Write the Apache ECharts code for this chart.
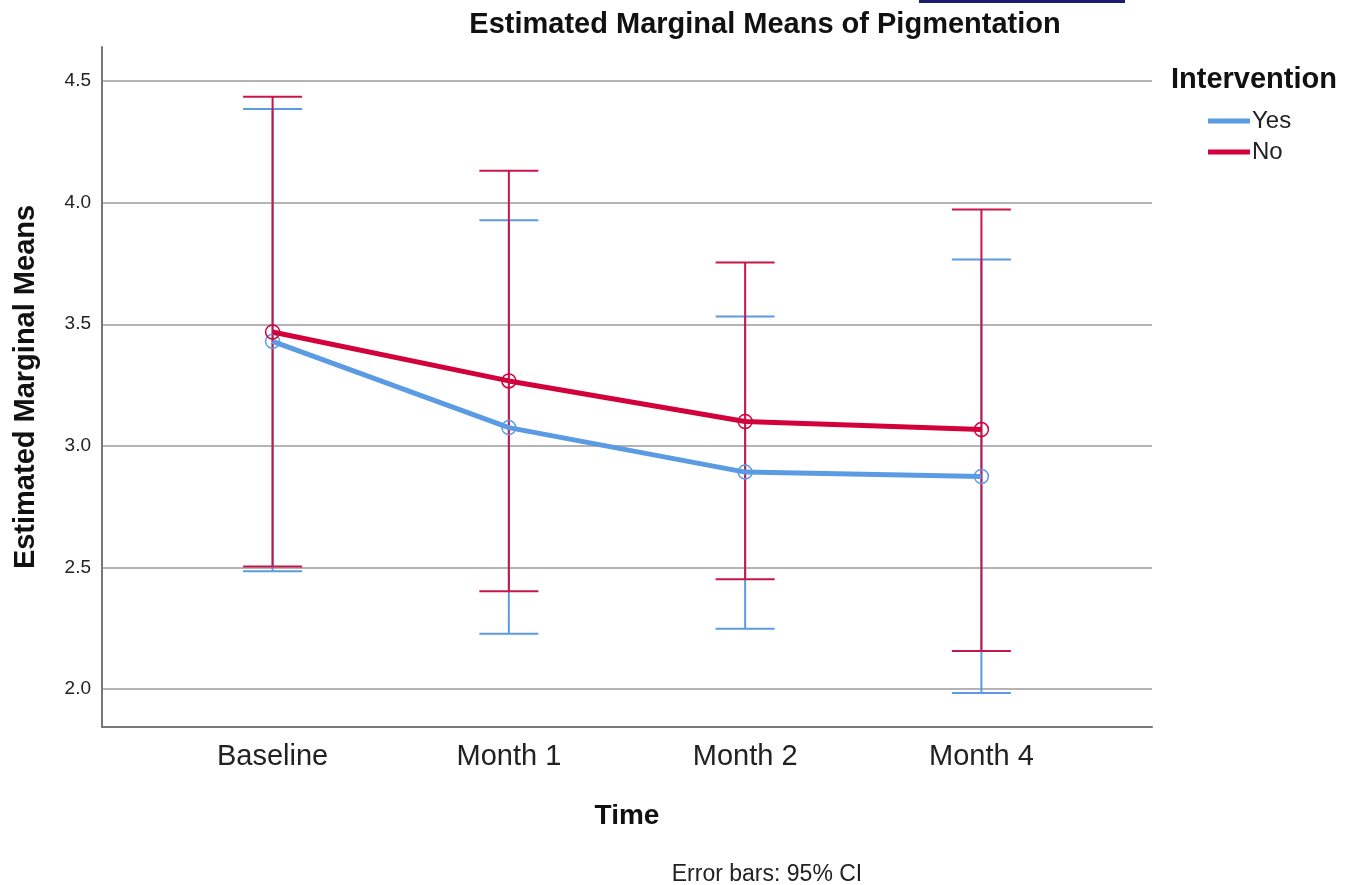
<!DOCTYPE html>
<html>
<head>
<meta charset="utf-8">
<script src="https://cdn.jsdelivr.net/npm/echarts@6/dist/echarts.min.js"></script>
<style>
  html, body { margin: 0; padding: 0; background: #fff; }
  #chart { width: 1347px; height: 885px; }
</style>
</head>
<body>
<div id="chart"></div>
<script>
// ---- data ----
const categories = ['Baseline', 'Month 1', 'Month 2', 'Month 4'];
const seriesNames = ['Yes', 'No'];
const yesMean  = [3.43, 3.075, 2.892, 2.874];
const yesLower = [2.484, 2.227, 2.248, 1.984];
const yesUpper = [4.385, 3.928, 3.532, 3.766];
const noMean   = [3.468, 3.267, 3.10, 3.067];
const noLower  = [2.504, 2.402, 2.451, 2.156];
const noUpper  = [4.435, 4.131, 3.754, 3.972];
const yTicks = [2.0, 2.5, 3.0, 3.5, 4.0, 4.5];

const FONT = '"Liberation Sans", Arial, sans-serif';
const BLUE = '#5b9be3';
const RED = '#d2003b';
const RED_BAR = '#c8164a';
const BLUE_BAR = '#5b9be3';

const idx = categories.map((_, i) => i);

function errData(lo, hi) { return idx.map(i => [i, lo[i], hi[i]]); }
function meanData(m) { return idx.map(i => [i, m[i]]); }

function errRender(color) {
  return function (params, api) {
    const x = api.value(0);
    const lo = api.coord([x, api.value(1)]);
    const hi = api.coord([x, api.value(2)]);
    const half = 29.5;
    const style = { stroke: color, lineWidth: 2, fill: null };
    return {
      type: 'group',
      children: [
        { type: 'line', shape: { x1: lo[0], y1: lo[1], x2: hi[0], y2: hi[1] }, style },
        { type: 'line', shape: { x1: lo[0] - half, y1: lo[1], x2: lo[0] + half, y2: lo[1] }, style },
        { type: 'line', shape: { x1: hi[0] - half, y1: hi[1], x2: hi[0] + half, y2: hi[1] }, style }
      ]
    };
  };
}

const chart = echarts.init(document.getElementById('chart'), null, { renderer: 'canvas' });

chart.setOption({
  backgroundColor: '#fff',
  animation: false,
  color: [BLUE, RED],
  title: [
    {
      text: 'Estimated Marginal Means of Pigmentation',
      left: 760, top: 5, textAlign: 'center',
      textStyle: { fontFamily: FONT, fontSize: 29, fontWeight: 'bold', color: '#111' }
    },
    {
      text: 'Intervention',
      left: 1166, top: 60,
      textStyle: { fontFamily: FONT, fontSize: 29, fontWeight: 'bold', color: '#111' }
    },
    {
      text: 'Error bars: 95% CI',
      left: 762, top: 858, textAlign: 'center',
      textStyle: { fontFamily: FONT, fontSize: 23, fontWeight: 'normal', color: '#222' }
    }
  ],
  graphic: [
    { type: 'rect', shape: { x: 919, y: 0, width: 206, height: 3 }, style: { fill: '#1d1d6b' } }
  ],
  legend: {
    orient: 'vertical',
    left: 1203, top: 104,
    itemWidth: 42, itemHeight: 5, itemGap: 7,
    icon: 'rect',
    data: seriesNames,
    textStyle: { fontFamily: FONT, fontSize: 24, color: '#222', padding: [0, 0, 0, -3] }
  },
  grid: { left: 102, right: 195, top: 47, bottom: 158, containLabel: false },
  xAxis: {
    type: 'value',
    min: -0.722, max: 3.722,
    name: 'Time',
    nameLocation: 'middle',
    nameGap: 75,
    nameTextStyle: { fontFamily: FONT, fontSize: 28, fontWeight: 'bold', color: '#111' },
    axisLine: { show: true, onZero: false, lineStyle: { color: '#777', width: 2 } },
    axisTick: { show: false, customValues: idx },
    splitLine: { show: false },
    axisLabel: {
      customValues: idx,
      formatter: v => categories[Math.round(v)],
      fontFamily: FONT, fontSize: 29, color: '#222', margin: 15
    }
  },
  yAxis: {
    type: 'value',
    min: 1.844, max: 4.64,
    name: 'Estimated Marginal Means',
    nameLocation: 'middle',
    nameGap: 62,
    nameTextStyle: { fontFamily: FONT, fontSize: 29, fontWeight: 'bold', color: '#111' },
    axisLine: { show: true, onZero: false, lineStyle: { color: '#777', width: 2 } },
    axisTick: { show: false, customValues: yTicks },
    splitLine: { show: true, lineStyle: { color: '#b4b4b4', width: 2 } },
    axisLabel: {
      customValues: yTicks,
      formatter: v => v.toFixed(1),
      fontFamily: FONT, fontSize: 19, color: '#222', margin: 11
    }
  },
  series: [
    {
      name: 'Yes', type: 'custom', renderItem: errRender(BLUE_BAR),
      data: errData(yesLower, yesUpper), z: 2, silent: true,
      itemStyle: { color: BLUE },
      encode: { x: 0, y: [1, 2] }
    },
    {
      name: 'No', type: 'custom', renderItem: errRender(RED_BAR),
      data: errData(noLower, noUpper), z: 3, silent: true,
      itemStyle: { color: RED },
      encode: { x: 0, y: [1, 2] }
    },
    {
      name: 'Yes', type: 'line', data: meanData(yesMean), z: 4,
      lineStyle: { color: BLUE, width: 5 },
      itemStyle: { color: 'rgba(0,0,0,0)', borderColor: BLUE, borderWidth: 1.5 },
      symbol: 'circle', symbolSize: 14
    },
    {
      name: 'No', type: 'line', data: meanData(noMean), z: 5,
      lineStyle: { color: RED, width: 5 },
      itemStyle: { color: 'rgba(0,0,0,0)', borderColor: RED, borderWidth: 1.5 },
      symbol: 'circle', symbolSize: 14
    }
  ]
});
</script>
</body>
</html>
